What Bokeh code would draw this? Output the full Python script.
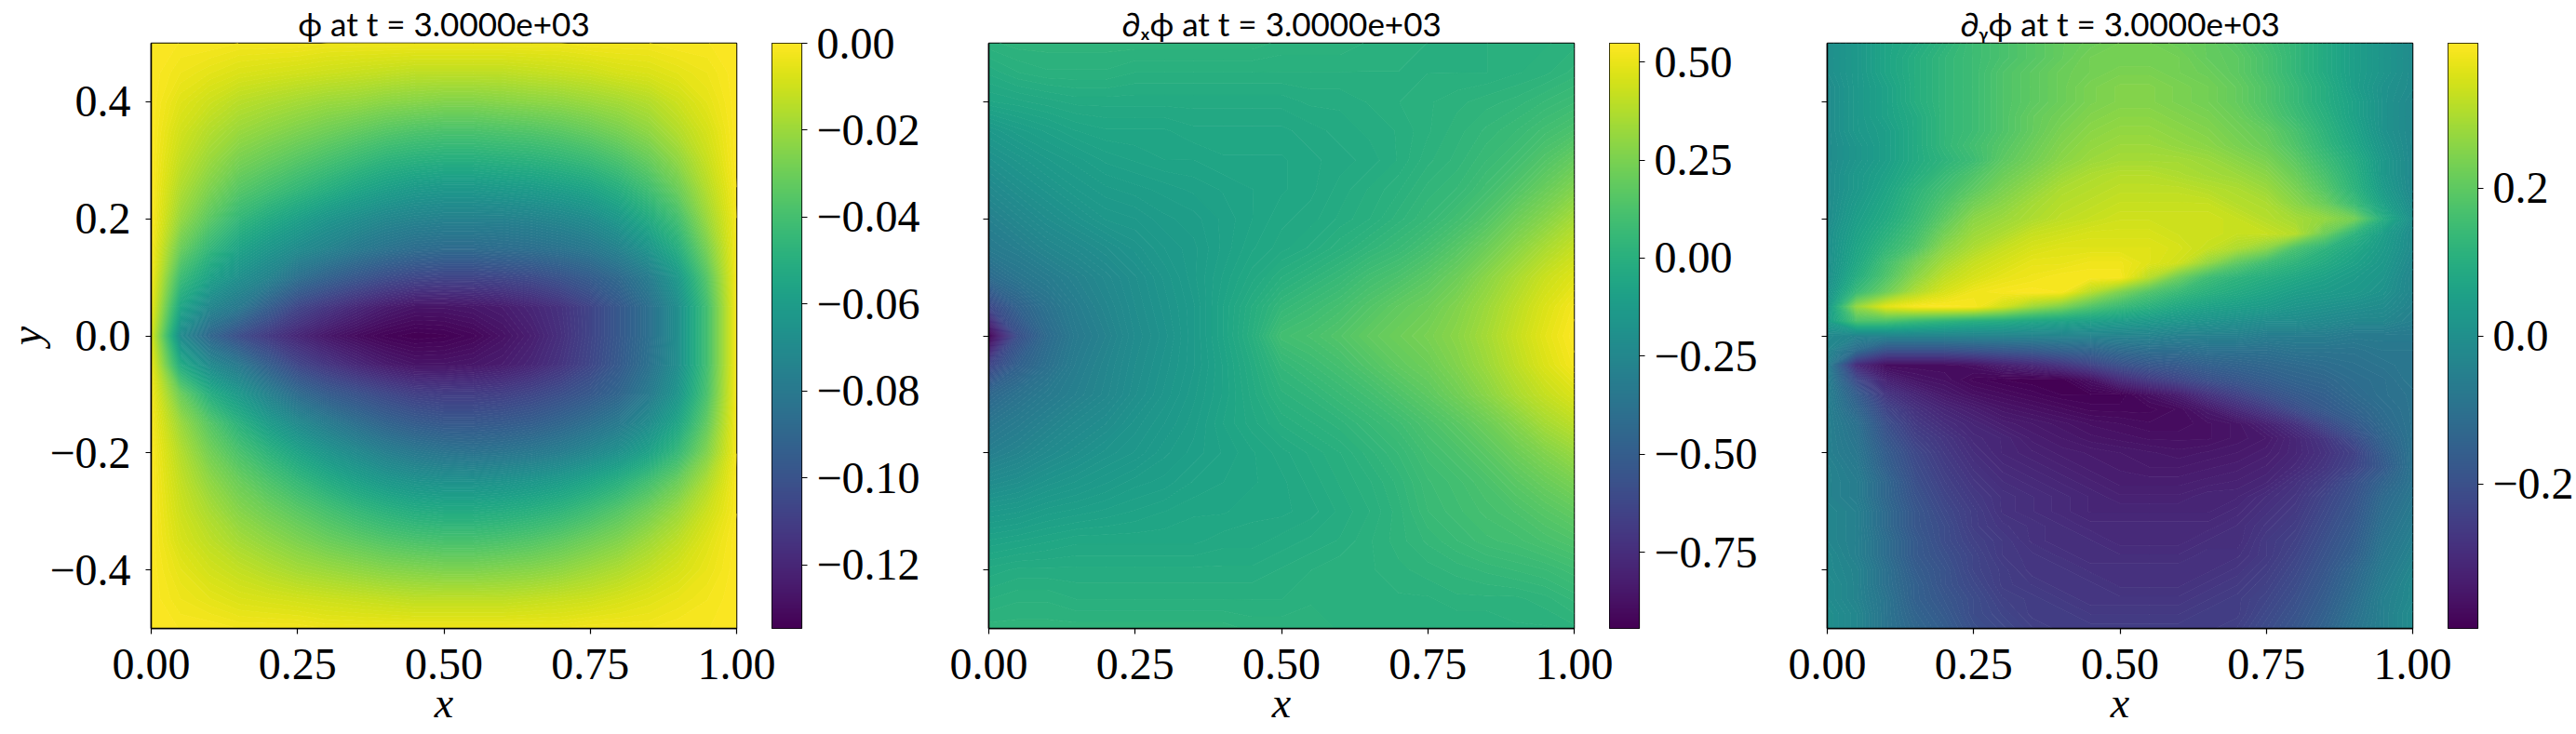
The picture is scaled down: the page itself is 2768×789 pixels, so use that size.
import numpy as np
from bokeh.embed import file_html
from bokeh.resources import INLINE
from bokeh.layouts import row
from bokeh.plotting import figure
from bokeh.models import LinearColorMapper, FixedTicker
from bokeh.palettes import Viridis256

x_ticks = [0, 0.25, 0.5, 0.75, 1]
x_labels = ["0.00", "0.25", "0.50", "0.75", "1.00"]
y_ticks = [-0.4, -0.2, 0, 0.2, 0.4]
y_labels = ["\u22120.4", "\u22120.2", "0.0", "0.2", "0.4"]
titles = ["\u03d5 at t = 3.0000e+03", "\u2202\u2093\u03d5 at t = 3.0000e+03", "\u2202\u1d67\u03d5 at t = 3.0000e+03"]

cb1_ticks = [0, -0.02, -0.04, -0.06, -0.08, -0.10, -0.12]
cb1_labels = ["0.00", "\u22120.02", "\u22120.04", "\u22120.06", "\u22120.08", "\u22120.10", "\u22120.12"]
cb2_ticks = [0.5, 0.25, 0, -0.25, -0.5, -0.75]
cb2_labels = ["0.50", "0.25", "0.00", "\u22120.25", "\u22120.50", "\u22120.75"]
cb3_ticks = [0.2, 0, -0.2]
cb3_labels = ["0.2", "0.0", "\u22120.2"]
limits = [(-0.1346, 0.0), (-0.9445, 0.548), (-0.395, 0.396)]

# values read at x = 0, 0.05, ... 1; rows run from the top of the panel down
phi = [
 [0,-.001,-.001,-.002,-.002,-.002,-.003,-.003,-.003,-.003,-.003,-.003,-.003,-.003,-.003,-.002,-.002,-.002,-.001,-.001,0],
 [0,-.003,-.005,-.007,-.008,-.009,-.010,-.011,-.012,-.013,-.013,-.013,-.013,-.012,-.011,-.010,-.008,-.007,-.005,-.003,0],
 [0,-.006,-.010,-.014,-.016,-.018,-.020,-.021,-.023,-.024,-.025,-.025,-.024,-.023,-.022,-.020,-.018,-.015,-.01,-.005,0],
 [0,-.009,-.015,-.02,-.023,-.026,-.029,-.032,-.035,-.037,-.038,-.038,-.037,-.036,-.034,-.031,-.027,-.022,-.015,-.008,0],
 [0,-.012,-.02,-.027,-.031,-.035,-.039,-.043,-.047,-.049,-.050,-.050,-.049,-.048,-.046,-.043,-.038,-.031,-.022,-.011,0],
 [0,-.016,-.026,-.035,-.04,-.045,-.05,-.055,-.059,-.062,-.063,-.063,-.062,-.061,-.059,-.056,-.05,-.041,-.03,-.015,-.001],
 [0,-.021,-.034,-.045,-.052,-.058,-.064,-.068,-.072,-.074,-.075,-.075,-.075,-.074,-.072,-.069,-.062,-.052,-.04,-.02,-.002],
 [-.001,-.03,-.045,-.056,-.063,-.069,-.074,-.079,-.083,-.086,-.087,-.087,-.086,-.085,-.083,-.08,-.074,-.064,-.05,-.027,-.002],
 [-.002,-.042,-.057,-.067,-.074,-.085,-.092,-.098,-.103,-.106,-.107,-.107,-.106,-.104,-.1,-.095,-.088,-.078,-.062,-.035,-.002],
 [-.004,-.055,-.072,-.08,-.094,-.106,-.113,-.119,-.124,-.127,-.127,-.126,-.124,-.12,-.115,-.107,-.097,-.085,-.068,-.04,-.002],
 [-.008,-.07,-.09,-.103,-.112,-.12,-.126,-.13,-.133,-.1346,-.134,-.132,-.128,-.123,-.116,-.107,-.097,-.085,-.068,-.04,-.002],
 [-.004,-.052,-.07,-.08,-.094,-.106,-.113,-.119,-.124,-.127,-.127,-.126,-.124,-.12,-.114,-.106,-.096,-.084,-.068,-.04,-.002],
 [-.002,-.03,-.05,-.062,-.075,-.087,-.095,-.1,-.105,-.109,-.11,-.11,-.109,-.106,-.102,-.097,-.09,-.079,-.064,-.038,-.002],
 [-.001,-.02,-.035,-.048,-.06,-.07,-.078,-.085,-.091,-.095,-.097,-.097,-.096,-.094,-.09,-.085,-.079,-.069,-.055,-.032,-.002],
 [0,-.015,-.028,-.038,-.047,-.056,-.064,-.07,-.076,-.08,-.082,-.083,-.082,-.08,-.077,-.072,-.066,-.057,-.044,-.025,-.002],
 [0,-.012,-.022,-.03,-.037,-.044,-.051,-.057,-.062,-.065,-.066,-.066,-.065,-.063,-.06,-.055,-.049,-.04,-.03,-.016,-.001],
 [0,-.01,-.017,-.024,-.029,-.034,-.039,-.044,-.048,-.051,-.052,-.052,-.051,-.049,-.046,-.041,-.035,-.028,-.02,-.01,-.001],
 [0,-.008,-.013,-.018,-.022,-.026,-.03,-.033,-.036,-.038,-.039,-.039,-.038,-.036,-.033,-.029,-.025,-.019,-.013,-.006,0],
 [0,-.005,-.009,-.012,-.015,-.018,-.02,-.022,-.024,-.025,-.026,-.026,-.025,-.024,-.022,-.019,-.016,-.012,-.008,-.004,0],
 [0,-.003,-.005,-.007,-.008,-.009,-.01,-.011,-.012,-.013,-.013,-.013,-.013,-.012,-.011,-.01,-.008,-.006,-.004,-.002,0],
 [0,-.001,-.001,-.002,-.002,-.002,-.003,-.003,-.003,-.003,-.003,-.003,-.003,-.003,-.003,-.002,-.002,-.002,-.001,-.001,0],
]

dphi_dx = [
 [.02,.03,.03,.03,.03,.03,.03,.03,.03,.03,.02,.02,.02,.01,.01,.0,.0,.0,.01,.01,.02],
 [-.02,.0,.01,.01,.01,.0,0,0,0,0,.0,0,0,0,0,0,0,.0,.01,.02,.04],
 [-.06,-.05,-.04,-.03,-.03,-.03,-.03,-.03,-.03,-.03,-.03,-.02,-.02,-.01,0,.01,.02,.03,.04,.06,.08],
 [-.14,-.11,-.09,-.07,-.06,-.06,-.06,-.05,-.05,-.05,-.05,-.04,-.03,-.02,-.01,.01,.03,.05,.07,.1,.13],
 [-.19,-.16,-.13,-.11,-.09,-.08,-.07,-.07,-.06,-.06,-.06,-.05,-.04,-.03,-.01,.02,.04,.07,.1,.15,.2],
 [-.24,-.2,-.17,-.14,-.12,-.11,-.1,-.09,-.08,-.07,-.06,-.05,-.03,-.01,.01,.04,.06,.1,.15,.21,.27],
 [-.29,-.25,-.21,-.18,-.15,-.14,-.12,-.11,-.09,-.07,-.05,-.04,-.02,0,.03,.06,.1,.15,.22,.28,.35],
 [-.33,-.3,-.26,-.23,-.2,-.17,-.14,-.12,-.09,-.06,-.04,-.02,.01,.04,.07,.11,.16,.22,.29,.36,.42],
 [-.42,-.36,-.32,-.28,-.24,-.2,-.16,-.12,-.08,-.04,0,.03,.06,.1,.13,.17,.22,.29,.36,.43,.48],
 [-.62,-.47,-.38,-.31,-.26,-.21,-.17,-.13,-.07,-.01,.05,.08,.11,.15,.19,.22,.27,.33,.4,.47,.53],
 [-.94,-.58,-.42,-.33,-.28,-.22,-.18,-.13,-.07,.0,.1,.12,.15,.19,.22,.25,.29,.35,.42,.49,.548],
 [-.64,-.48,-.39,-.31,-.26,-.21,-.17,-.13,-.08,-.02,.05,.08,.11,.15,.19,.22,.27,.33,.4,.47,.53],
 [-.44,-.38,-.33,-.29,-.25,-.2,-.16,-.12,-.08,-.03,.02,.04,.07,.1,.14,.18,.23,.29,.36,.42,.47],
 [-.36,-.32,-.28,-.24,-.21,-.17,-.14,-.11,-.07,-.04,-.01,.01,.03,.06,.09,.13,.17,.22,.28,.35,.4],
 [-.3,-.27,-.23,-.2,-.17,-.15,-.12,-.1,-.08,-.06,-.04,-.02,0,.03,.06,.1,.13,.17,.22,.27,.32],
 [-.22,-.2,-.17,-.15,-.13,-.11,-.1,-.08,-.07,-.06,-.05,-.03,-.01,.01,.04,.08,.1,.13,.17,.21,.25],
 [-.14,-.13,-.11,-.1,-.09,-.08,-.07,-.06,-.06,-.05,-.05,-.04,-.02,0,.03,.07,.09,.11,.13,.16,.19],
 [-.08,-.07,-.06,-.05,-.05,-.05,-.05,-.05,-.04,-.04,-.03,-.02,-.01,.01,.03,.05,.07,.09,.1,.12,.14],
 [-.03,-.02,-.02,-.02,-.02,-.02,-.02,-.02,-.02,-.02,-.01,0,.01,.01,.02,.03,.04,.05,.06,.07,.09],
 [0,.01,.01,.0,0,0,0,0,0,0,0,.01,.01,.01,.01,.01,.02,.02,.02,.03,.05],
 [.03,.03,.03,.03,.03,.03,.03,.03,.03,.02,.02,.02,.01,.01,.01,0,0,0,.01,.01,.02],
]

# rows 0.025 apart, from y = 0.5 down to y = -0.5
dphi_dy = [
 [0,.03,.07,.09,.12,.15,.17,.19,.21,.22,.23,.23,.22,.21,.19,.16,.13,.09,.05,.02,-.01],
 [0,.03,.07,.10,.13,.15,.17,.19,.21,.23,.23,.23,.23,.21,.2,.17,.13,.09,.05,.02,-.01],
 [0,.03,.07,.1,.13,.15,.18,.2,.22,.23,.24,.24,.23,.22,.2,.17,.13,.09,.05,.02,-.01],
 [-.01,.03,.06,.1,.13,.15,.18,.2,.22,.24,.25,.25,.24,.23,.21,.18,.14,.1,.05,.01,-.01],
 [-.01,.03,.06,.1,.13,.15,.18,.2,.22,.24,.25,.25,.24,.23,.21,.18,.14,.1,.06,.01,-.02],
 [-.01,.03,.06,.09,.13,.15,.18,.21,.23,.25,.26,.26,.25,.24,.22,.19,.15,.11,.06,.01,-.02],
 [-.01,.03,.05,.09,.13,.15,.18,.21,.24,.26,.27,.27,.26,.25,.23,.21,.17,.12,.07,.01,-.02],
 [-.01,.02,.05,.09,.13,.16,.19,.22,.25,.27,.28,.28,.27,.26,.24,.22,.18,.13,.08,.02,-.02],
 [-.01,.02,.05,.09,.12,.15,.2,.23,.26,.28,.29,.29,.29,.28,.26,.24,.2,.15,.1,.03,-.02],
 [-.01,.03,.06,.1,.14,.18,.22,.25,.28,.3,.31,.31,.3,.29,.28,.26,.22,.17,.11,.03,-.02],
 [-.01,.03,.07,.12,.16,.2,.24,.27,.3,.31,.32,.32,.32,.31,.3,.28,.24,.19,.12,.04,-.02],
 [-.01,.04,.08,.13,.18,.23,.26,.29,.31,.32,.33,.33,.33,.33,.31,.3,.26,.22,.15,.06,-.01],
 [-.01,.05,.09,.14,.2,.26,.28,.3,.32,.33,.34,.34,.34,.34,.33,.31,.29,.27,.23,.1,0],
 [0,.06,.11,.16,.23,.28,.3,.33,.34,.35,.35,.35,.34,.34,.33,.33,.31,.22,.12,.05,-.01],
 [0,.07,.13,.18,.26,.3,.33,.35,.36,.36,.36,.36,.35,.33,.3,.26,.17,.12,.08,.04,-.01],
 [0,.08,.16,.23,.29,.33,.35,.37,.37,.38,.38,.36,.34,.27,.2,.15,.12,.09,.06,.03,-.02],
 [0,.1,.18,.26,.32,.35,.37,.38,.39,.39,.39,.31,.22,.15,.12,.1,.08,.06,.04,.02,-.03],
 [.01,.14,.22,.3,.35,.38,.39,.395,.39,.31,.24,.18,.14,.11,.09,.07,.05,.04,.03,.01,-.03],
 [.02,.27,.36,.39,.395,.39,.34,.28,.24,.18,.14,.11,.08,.06,.05,.04,.02,.01,0,-.01,-.04],
 [.04,.17,.17,.14,.12,.1,.09,.07,.06,.05,.04,.03,.02,.01,0,-.01,-.01,-.02,-.03,-.03,-.05],
 [-.02,-.04,-.04,-.04,-.04,-.04,-.04,-.04,-.04,-.04,-.04,-.04,-.05,-.05,-.05,-.06,-.06,-.06,-.07,-.07,-.07],
 [-.03,-.12,-.2,-.2,-.2,-.19,-.18,-.17,-.15,-.14,-.12,-.11,-.11,-.1,-.1,-.1,-.09,-.09,-.09,-.08,-.08],
 [-.05,-.3,-.37,-.37,-.37,-.36,-.33,-.31,-.28,-.24,-.2,-.18,-.17,-.15,-.14,-.13,-.12,-.11,-.1,-.09,-.08],
 [-.05,-.22,-.32,-.35,-.36,-.38,-.39,-.395,-.395,-.36,-.3,-.26,-.23,-.2,-.18,-.16,-.14,-.13,-.11,-.1,-.08],
 [-.05,-.16,-.27,-.31,-.34,-.36,-.37,-.38,-.39,-.39,-.39,-.36,-.33,-.28,-.24,-.2,-.17,-.15,-.12,-.1,-.09],
 [-.05,-.13,-.23,-.28,-.31,-.33,-.35,-.36,-.37,-.38,-.38,-.38,-.37,-.34,-.3,-.26,-.21,-.17,-.14,-.11,-.09],
 [-.05,-.1,-.2,-.26,-.29,-.31,-.33,-.34,-.35,-.36,-.365,-.37,-.37,-.36,-.35,-.32,-.28,-.22,-.17,-.12,-.09],
 [-.05,-.09,-.18,-.24,-.27,-.3,-.31,-.33,-.34,-.35,-.355,-.36,-.36,-.36,-.35,-.34,-.31,-.27,-.21,-.14,-.09],
 [-.05,-.08,-.16,-.22,-.26,-.29,-.31,-.32,-.33,-.335,-.34,-.345,-.35,-.345,-.34,-.33,-.31,-.28,-.24,-.16,-.09],
 [-.04,-.07,-.15,-.21,-.25,-.28,-.3,-.31,-.32,-.33,-.335,-.34,-.34,-.335,-.33,-.32,-.3,-.27,-.23,-.17,-.09],
 [-.04,-.06,-.13,-.2,-.24,-.27,-.29,-.3,-.31,-.32,-.33,-.33,-.33,-.325,-.32,-.31,-.28,-.25,-.2,-.14,-.09],
 [-.04,-.06,-.13,-.19,-.23,-.26,-.28,-.29,-.3,-.31,-.32,-.32,-.32,-.31,-.31,-.29,-.27,-.23,-.19,-.12,-.08],
 [-.03,-.05,-.12,-.18,-.22,-.25,-.28,-.29,-.3,-.31,-.31,-.31,-.31,-.31,-.3,-.28,-.26,-.22,-.18,-.11,-.07],
 [-.03,-.05,-.12,-.18,-.21,-.25,-.27,-.28,-.29,-.3,-.3,-.3,-.3,-.3,-.29,-.27,-.25,-.21,-.17,-.1,-.06],
 [-.03,-.05,-.11,-.17,-.21,-.24,-.26,-.28,-.29,-.29,-.3,-.3,-.3,-.29,-.29,-.26,-.24,-.2,-.16,-.09,-.05],
 [-.02,-.05,-.11,-.17,-.2,-.23,-.26,-.27,-.28,-.29,-.29,-.29,-.29,-.28,-.28,-.26,-.23,-.19,-.15,-.08,-.04],
 [-.02,-.04,-.1,-.16,-.19,-.23,-.25,-.27,-.27,-.28,-.28,-.28,-.28,-.28,-.27,-.25,-.22,-.18,-.13,-.07,-.03],
 [-.01,-.04,-.1,-.15,-.19,-.22,-.25,-.26,-.27,-.27,-.28,-.28,-.28,-.27,-.26,-.24,-.21,-.17,-.12,-.06,-.02],
 [-.01,-.04,-.09,-.15,-.18,-.21,-.24,-.25,-.26,-.27,-.27,-.27,-.27,-.26,-.25,-.23,-.2,-.16,-.11,-.05,-.02],
 [0,-.03,-.09,-.14,-.17,-.21,-.23,-.25,-.25,-.26,-.26,-.26,-.26,-.25,-.25,-.22,-.19,-.15,-.1,-.05,-.01],
 [0,-.03,-.09,-.13,-.16,-.2,-.22,-.24,-.25,-.25,-.25,-.25,-.25,-.25,-.24,-.21,-.18,-.14,-.09,-.05,-.01],
]

SERIF = "Liberation Serif"
N_BANDS = 128
BAND_COLORS = list(Viridis256[::2])
LINE_COLORS = BAND_COLORS + [BAND_COLORS[-1]]


def style_axis(ax):
    ax.major_tick_out = 6
    ax.major_tick_in = 0
    ax.minor_tick_out = 0
    ax.minor_tick_in = 0
    ax.major_tick_line_width = 1.2
    ax.major_tick_line_color = "black"
    ax.axis_line_color = "black"
    ax.axis_line_width = 1.5
    ax.major_label_text_font = SERIF
    ax.major_label_text_font_size = "48px"
    ax.major_label_text_color = "black"
    ax.axis_label_text_font = SERIF
    ax.axis_label_text_font_size = "46px"
    ax.axis_label_text_font_style = "italic"
    ax.axis_label_text_color = "black"


def panel(grid, lim, title, left_border, show_y):
    arr = np.array(grid, dtype=float)[::-1]
    ny, nx = arr.shape
    p = figure(frame_width=629, frame_height=629, x_range=(0, 1), y_range=(-0.5, 0.5),
               min_border_left=left_border, min_border_right=46,
               min_border_top=39, min_border_bottom=105,
               output_backend="svg", toolbar_location=None, tools="")
    xs = np.linspace(0, 1, nx)
    ys = np.linspace(-0.5, 0.5, ny)
    eps = (lim[1] - lim[0]) * 1e-3
    levels = np.linspace(lim[0] - eps, lim[1] + eps, N_BANDS + 1)
    p.contour(xs, ys, arr, levels, fill_color=BAND_COLORS, line_color=LINE_COLORS, line_width=1)
    p.grid.visible = False
    p.outline_line_color = "black"
    p.outline_line_width = 1.5
    p.title.text = title
    p.title.align = "center"
    p.title.text_font = "Lato"
    p.title.text_font_size = "35px"
    p.title.text_font_style = "normal"
    p.title.text_color = "black"
    p.title.standoff = 2
    style_axis(p.xaxis[0])
    style_axis(p.yaxis[0])
    p.xaxis[0].ticker = FixedTicker(ticks=x_ticks)
    p.xaxis[0].major_label_overrides = dict(zip(x_ticks, x_labels))
    p.xaxis[0].axis_label = "x"
    p.xaxis[0].major_label_standoff = 16
    p.xaxis[0].axis_label_standoff = -3
    p.yaxis[0].ticker = FixedTicker(ticks=y_ticks)
    p.yaxis[0].major_label_orientation = "horizontal"
    if show_y:
        p.yaxis[0].major_label_overrides = dict(zip(y_ticks, y_labels))
        p.yaxis[0].axis_label = "y"
        p.yaxis[0].major_label_standoff = 16
        p.yaxis[0].axis_label_standoff = -4
    else:
        p.yaxis[0].major_label_overrides = {t: "" for t in y_ticks}
        p.yaxis[0].major_label_standoff = 0
    return p


def colorbar(lim, ticks, labels, right_border):
    c = figure(frame_width=32, frame_height=629, x_range=(0, 1), y_range=lim,
               x_axis_location=None, y_axis_location="right",
               min_border_left=0, min_border_right=right_border,
               min_border_top=39, min_border_bottom=105,
               margin=(0, 0, 0, -8), border_fill_color=None,
               output_backend="svg", toolbar_location=None, tools="")
    mapper = LinearColorMapper(palette=Viridis256, low=lim[0], high=lim[1])
    ramp = np.linspace(lim[0], lim[1], 256)[:, None]
    c.image(image=[ramp], x=0, y=lim[0], dw=1, dh=lim[1] - lim[0], color_mapper=mapper)
    c.grid.visible = False
    c.outline_line_color = "black"
    c.outline_line_width = 1.2
    ax = c.yaxis[0]
    style_axis(ax)
    ax.axis_line_color = None
    ax.ticker = FixedTicker(ticks=ticks)
    ax.major_label_overrides = dict(zip(ticks, labels))
    ax.major_label_orientation = "horizontal"
    ax.major_label_standoff = 10
    return c


figs = [
    panel(phi, limits[0], titles[0], 160, True),
    colorbar(limits[0], cb1_ticks, cb1_labels, 128),
    panel(dphi_dx, limits[1], titles[1], 71, False),
    colorbar(limits[1], cb2_ticks, cb2_labels, 128),
    panel(dphi_dy, limits[2], titles[2], 72, False),
    colorbar(limits[2], cb3_ticks, cb3_labels, 100),
]
page = row(*figs, spacing=0)
open("out.html", "w").write(file_html(page, INLINE))
